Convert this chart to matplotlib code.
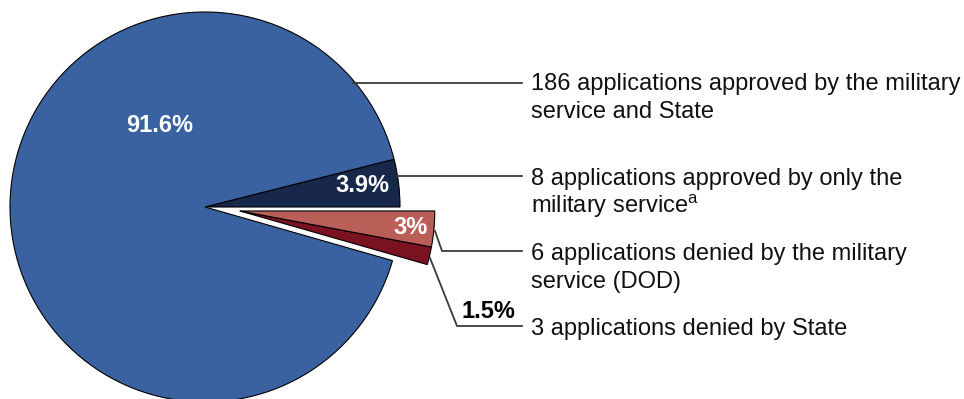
import numpy as np
import matplotlib.pyplot as plt

plt.rcParams['font.family'] = ['Liberation Sans', 'DejaVu Sans']
plt.rcParams['mathtext.fontset'] = 'custom'
plt.rcParams['mathtext.rm'] = 'Liberation Sans'

# counts, in the counterclockwise order they are drawn starting at 3 o'clock
counts = [8, 186, 3, 6]
pct_labels = ["3.9%", "91.6%", "1.5%", "3%"]
colors = ["#17284a", "#3a62a0", "#7a1222", "#ba5f58"]
descriptions = [
    ["186 applications approved by the military", "service and State"],
    ["8 applications approved by only the", "military service$^{\\mathrm{a}}$"],
    ["6 applications denied by the military", "service (DOD)"],
    ["3 applications denied by State"],
]

W, H = 964, 399
fig = plt.figure(figsize=(W / 100, H / 100), dpi=100)
ax = fig.add_axes([0, 0, 1, 1])


def py(y):
    # pixel row (from top) -> data y
    return H - y


cx, cy, r = 205, py(207), 195
wedges, _ = ax.pie(counts, colors=colors, startangle=0, counterclock=True,
                   radius=r, center=(cx, cy),
                   wedgeprops=dict(edgecolor="black", linewidth=0.8))

# pull the two denied slices out together
shift = 35
ang = np.deg2rad(-6.5)
for w in wedges[2:]:
    w.set_center((cx + shift * np.cos(ang), cy + shift * np.sin(ang)))

ax.set_xlim(0, W)
ax.set_ylim(0, H)
ax.set_aspect("equal")
ax.axis("off")

# percentage labels
lab = dict(fontsize=17, fontweight="bold", ha="center", va="center")
ax.text(160, py(125), pct_labels[1], color="white", **lab)
ax.text(362, py(186), pct_labels[0], color="white", **lab)
ax.text(411, py(228), pct_labels[3], color="white", **lab)
ax.text(488, py(311), pct_labels[2], color="black", **lab)

# leader lines
lc = "#3a3a3a"
lw = 1.3
ax.plot([353, 522], [py(83), py(83)], color=lc, lw=lw)
ax.plot([397, 522], [py(176), py(176)], color=lc, lw=lw)
ax.plot([435, 442, 522], [py(231), py(251), py(251)], color=lc, lw=lw)
ax.plot([430, 457, 522], [py(258), py(326), py(326)], color=lc, lw=lw)

# descriptions
text_x = 531
for lines, y in zip(descriptions, [82, 177, 252, 327]):
    for i, line in enumerate(lines):
        ax.text(text_x, py(y + 8 + i * 28), line, fontsize=17,
                color="#111111", ha="left", va="baseline")

fig.savefig("out.png", dpi=100)
